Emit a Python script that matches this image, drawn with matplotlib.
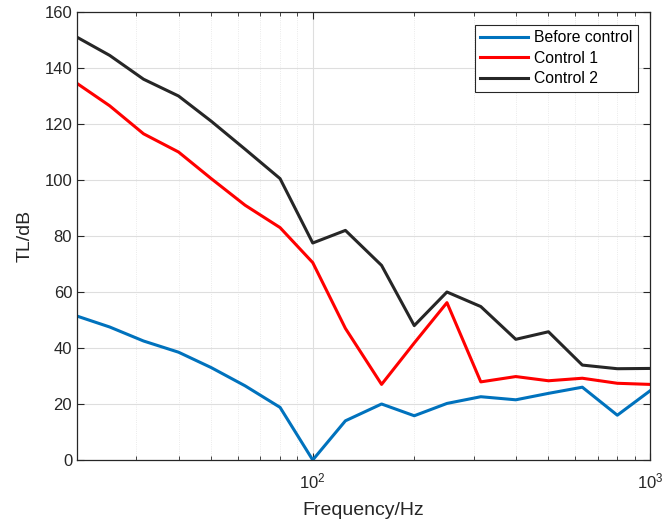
import matplotlib
matplotlib.use("Agg")
import matplotlib.pyplot as plt
from matplotlib.ticker import LogLocator, NullFormatter

plt.rcParams["font.family"] = ["Liberation Sans", "DejaVu Sans"]
plt.rcParams["mathtext.fontset"] = "custom"
plt.rcParams["mathtext.rm"] = "Liberation Sans"
plt.rcParams["mathtext.it"] = "Liberation Sans"

# 1/3 octave band centre frequencies
freq = [20, 25, 31.5, 40, 50, 63, 80, 100, 125, 160, 200, 250, 315, 400, 500, 630, 800, 1000]
before = [51.4, 47.5, 42.5, 38.5, 33.0, 26.5, 18.8, 0.0, 14.0, 20.0, 15.8, 20.2, 22.6, 21.5, 23.8, 26.0, 16.0, 24.7]
control1 = [134.5, 126.5, 116.5, 110.0, 100.5, 91.0, 83.0, 70.5, 47.0, 27.0, 41.8, 56.2, 27.9, 29.8, 28.3, 29.2, 27.4, 27.0]
control2 = [151.0, 144.5, 136.0, 130.0, 121.0, 111.0, 100.5, 77.5, 82.0, 69.5, 48.0, 60.0, 54.8, 43.1, 45.8, 33.9, 32.6, 32.7]

dark = "#262626"

fig = plt.figure(figsize=(6.63, 5.26), dpi=100)
ax = fig.add_axes([77/663, 1 - 460/526, 573/663, 448/526])

ax.plot(freq, before, color="#0072BD", lw=2.2, label="Before control")
ax.plot(freq, control1, color="#FF0000", lw=2.2, label="Control 1")
ax.plot(freq, control2, color=dark, lw=2.2, label="Control 2")

ax.set_xscale("log")
ax.set_xlim(20, 1000)
ax.set_ylim(0, 160)
ax.set_yticks(range(0, 161, 20))
ax.xaxis.set_minor_locator(LogLocator(base=10, subs=range(2, 10)))
ax.xaxis.set_minor_formatter(NullFormatter())

ax.grid(True, which="major", color="#dedede", lw=0.8)
ax.grid(True, which="minor", axis="x", color="#e4e4e4", lw=0.6, ls=":")
ax.set_axisbelow(True)

ax.tick_params(which="both", direction="in", top=True, right=True, colors=dark, labelsize=12)
ax.tick_params(which="major", length=5)
ax.tick_params(which="minor", length=3)
ax.tick_params(axis="x", pad=8)
for s in ax.spines.values():
    s.set_color(dark)
    s.set_linewidth(0.9)

ax.set_xlabel("Frequency/Hz", fontsize=14, color=dark, labelpad=8)
ax.set_ylabel("TL/dB", fontsize=14, color=dark, labelpad=8)

leg = ax.legend(loc="upper right", bbox_to_anchor=(0.9785, 0.971), fontsize=11.3, fancybox=False,
                framealpha=1, edgecolor=dark, handlelength=3.0, borderpad=0.35,
                labelspacing=0.35, handletextpad=0.4, borderaxespad=0)
leg.get_frame().set_linewidth(0.8)
for t in leg.get_texts():
    t.set_color("black")

fig.savefig("out.png", dpi=100)
